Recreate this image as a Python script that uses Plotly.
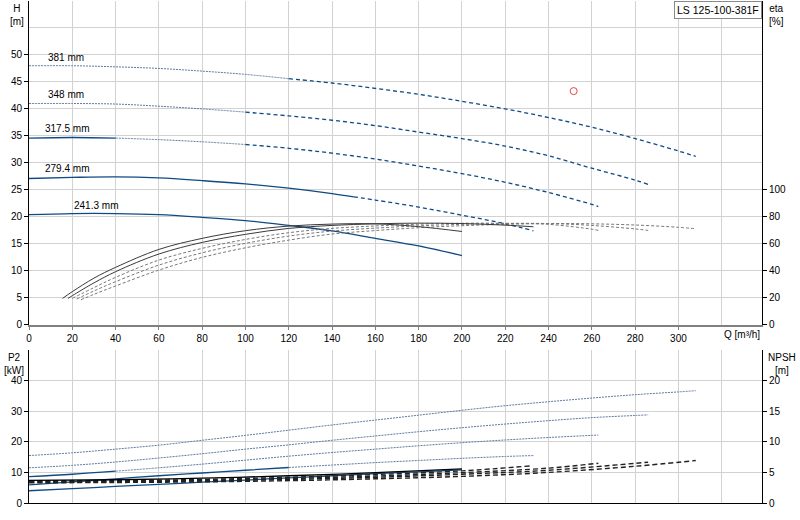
import plotly.graph_objects as go

# ---------------------------
# DATA
# ---------------------------
PUMP_NAME = "LS 125-100-381F"
DIAMETERS = ["381 mm", "348 mm", "317.5 mm", "279.4 mm", "241.3 mm"]

# Q-H curves, Q in m3/h, H in m
Q_381 = [0, 20, 40, 60, 80, 100, 120, 140, 160, 180, 200, 220, 240, 260, 280, 300, 308]
H_381 = [48.0, 48.0, 47.8, 47.5, 47.0, 46.4, 45.6, 44.8, 43.8, 42.7, 41.4, 40.0, 38.4, 36.6, 34.5, 32.2, 31.2]
Q_348 = [0, 20, 40, 60, 80, 100, 120, 140, 160, 180, 200, 220, 240, 260, 280, 286]
H_348 = [41.0, 41.0, 40.9, 40.5, 40.0, 39.4, 38.7, 37.9, 36.9, 35.7, 34.5, 33.1, 31.3, 29.0, 26.8, 26.0]
Q_3175 = [0, 20, 40, 60, 80, 100, 120, 140, 160, 180, 200, 220, 240, 260, 263]
H_3175 = [34.6, 34.7, 34.6, 34.3, 33.9, 33.4, 32.7, 31.8, 30.7, 29.4, 28.0, 26.4, 24.5, 22.3, 21.9]
Q_2794 = [0, 20, 40, 60, 80, 100, 120, 140, 150, 160, 180, 200, 220, 233]
H_2794 = [27.1, 27.3, 27.4, 27.2, 26.7, 26.1, 25.3, 24.3, 23.7, 23.1, 21.8, 20.3, 18.7, 17.4]
Q_2413 = [0, 20, 40, 60, 80, 100, 120, 140, 160, 180, 200]
H_2413 = [20.4, 20.6, 20.6, 20.4, 19.9, 19.3, 18.4, 17.4, 16.0, 14.6, 12.8]

# efficiency curves, eta in %
QE_381 = [24, 30, 40, 60, 80, 100, 120, 140, 160, 180, 200, 220, 240, 260, 280, 300, 308]
ETA_381 = [18.5, 22.5, 28.7, 40.5, 49.9, 57.0, 62.7, 67.2, 69.8, 71.9, 73.4, 74.4, 75.0, 74.8, 73.9, 72.2, 71.1]
QE_348 = [22, 30, 40, 60, 80, 100, 120, 140, 160, 180, 200, 220, 240, 260, 280, 286]
ETA_348 = [19.0, 25.0, 31.9, 44.2, 53.3, 60.3, 65.7, 69.4, 71.6, 73.3, 74.4, 75.0, 75.0, 73.6, 71.0, 69.9]
QE_3175 = [20, 30, 40, 60, 80, 100, 120, 140, 160, 180, 200, 220, 240, 260, 263]
ETA_3175 = [19.5, 27.5, 35.1, 47.9, 56.6, 63.2, 68.2, 71.4, 73.2, 74.5, 75.2, 75.2, 74.4, 70.8, 69.9]
QE_2794 = [18, 20, 30, 40, 60, 80, 100, 120, 140, 160, 180, 200, 220, 233]
ETA_2794 = [19.5, 21.5, 31.0, 39.3, 52.4, 61.0, 67.0, 71.4, 73.6, 74.8, 75.3, 75.0, 73.8, 72.6]
QE_2413 = [15.5, 20, 30, 40, 60, 80, 100, 120, 140, 160, 180, 200]
ETA_2413 = [19.5, 24.5, 34.5, 42.5, 55.8, 64.0, 69.7, 73.1, 74.6, 74.8, 72.7, 69.1]

# shaft power P2 in kW (same Q points as the H curves)
P2_381 = [15.5, 16.4, 17.6, 18.9, 20.5, 22.1, 23.8, 25.5, 27.1, 28.7, 30.3, 31.8, 33.1, 34.3, 35.4, 36.3, 36.7]
P2_348 = [11.5, 12.3, 13.4, 14.7, 16.1, 17.6, 19.0, 20.5, 21.9, 23.3, 24.6, 25.8, 26.9, 27.9, 28.6, 28.8]
P2_3175 = [8.6, 9.4, 10.4, 11.5, 12.7, 14.0, 15.3, 16.5, 17.6, 18.7, 19.7, 20.6, 21.4, 22.1, 22.2]
P2_2794 = [5.9, 6.9, 7.9, 8.9, 9.8, 10.7, 11.6, 12.4, 12.8, 13.2, 13.9, 14.6, 15.2, 15.5]
P2_2413 = [4.0, 4.7, 5.4, 6.1, 6.8, 7.5, 8.2, 8.9, 9.6, 10.2, 10.8]

# NPSH in m
QN_381 = [0, 40, 80, 120, 160, 200, 240, 280, 308]
NPSH_381 = [3.3, 3.35, 3.45, 3.65, 3.95, 4.35, 5.0, 6.0, 6.94]
QN_348 = [0, 40, 80, 120, 160, 200, 240, 286]
NPSH_348 = [3.4, 3.45, 3.6, 3.85, 4.2, 4.7, 5.35, 6.67]
QN_3175 = [0, 40, 80, 120, 160, 200, 240, 263]
NPSH_3175 = [3.5, 3.55, 3.7, 4.0, 4.4, 4.95, 5.7, 6.5]
QN_2794 = [0, 40, 80, 120, 160, 200, 232]
NPSH_2794 = [3.6, 3.65, 3.85, 4.2, 4.65, 5.25, 6.07]
QN_2413 = [0, 40, 80, 120, 160, 200]
NPSH_2413 = [3.7, 3.8, 4.05, 4.45, 4.95, 5.57]

# duty point
DUTY_Q = [251.6]
DUTY_H = [43.3]

# ---------------------------
# STYLE
# ---------------------------
BLUE = "#0f4a86"
GRID = "#d2d2d2"
FONT = "Liberation Sans, Arial, sans-serif"
DOT = dict(color="#5d7aa0", width=1, dash="2px,1px")
DASH = dict(color=BLUE, width=1.3, dash="4px,3px")
SOLID = dict(color=BLUE, width=1.3)

# style changes along each Q-H / P2 curve: (last index, style)
H_SEGMENTS = {
    "381 mm": [(6, DOT), (None, DASH)],
    "348 mm": [(5, DOT), (None, DASH)],
    "317.5 mm": [(2, SOLID), (5, DOT), (None, DASH)],
    "279.4 mm": [(8, SOLID), (None, DASH)],
    "241.3 mm": [(None, SOLID)],
}
P2_SEGMENTS = {
    "381 mm": [(None, DOT)],
    "348 mm": [(None, DOT)],
    "317.5 mm": [(2, SOLID), (None, DOT)],
    "279.4 mm": [(6, SOLID), (None, DOT)],
    "241.3 mm": [(None, SOLID)],
}
# label anchor (Q, H) for each diameter
LABEL_POS = {
    "381 mm": (8, 49.6),
    "348 mm": (8, 42.6),
    "317.5 mm": (6.5, 36.3),
    "279.4 mm": (6.5, 29.0),
    "241.3 mm": (20, 22.1),
}

H_DATA = {
    "381 mm": (Q_381, H_381, P2_381),
    "348 mm": (Q_348, H_348, P2_348),
    "317.5 mm": (Q_3175, H_3175, P2_3175),
    "279.4 mm": (Q_2794, H_2794, P2_2794),
    "241.3 mm": (Q_2413, H_2413, P2_2413),
}
ETA_DATA = {
    "381 mm": (QE_381, ETA_381),
    "348 mm": (QE_348, ETA_348),
    "317.5 mm": (QE_3175, ETA_3175),
    "279.4 mm": (QE_2794, ETA_2794),
    "241.3 mm": (QE_2413, ETA_2413),
}
NPSH_DATA = {
    "381 mm": (QN_381, NPSH_381),
    "348 mm": (QN_348, NPSH_348),
    "317.5 mm": (QN_3175, NPSH_3175),
    "279.4 mm": (QN_2794, NPSH_2794),
    "241.3 mm": (QN_2413, NPSH_2413),
}
SOLID_SET = ["279.4 mm", "241.3 mm"]

fig = go.Figure()


def add_segments(q, v, segments, xaxis, yaxis):
    start = 0
    for end, style in segments:
        stop = len(q) if end is None else end + 1
        fig.add_trace(go.Scatter(
            x=q[start:stop], y=v[start:stop], mode="lines",
            line=dict(shape="spline", **style),
            xaxis=xaxis, yaxis=yaxis, hoverinfo="skip",
        ))
        start = stop - 1


# efficiency first so the H curves sit on top
for d in DIAMETERS:
    q, eta = ETA_DATA[d]
    if d in SOLID_SET:
        line = dict(color="#3a3a3a", width=1)
    else:
        line = dict(color="#777777", width=1, dash="3px,2px")
    fig.add_trace(go.Scatter(x=q, y=eta, mode="lines", line=dict(shape="spline", **line),
                             xaxis="x", yaxis="y2", hoverinfo="skip"))

for d in DIAMETERS:
    q, h, p2 = H_DATA[d]
    add_segments(q, h, H_SEGMENTS[d], "x", "y")
    add_segments(q, p2, P2_SEGMENTS[d], "x2", "y3")

for d in DIAMETERS:
    q, n = NPSH_DATA[d]
    if d == "241.3 mm":
        line = dict(color="black", width=1.3)
    else:
        line = dict(color="#222222", width=1.4, dash="5px,3px")
    fig.add_trace(go.Scatter(x=q, y=n, mode="lines", line=dict(shape="spline", **line),
                             xaxis="x2", yaxis="y4", hoverinfo="skip"))

fig.add_trace(go.Scatter(
    x=DUTY_Q, y=DUTY_H, mode="markers",
    marker=dict(symbol="circle-open", size=7, color="#e0484a", line=dict(width=1)),
    xaxis="x", yaxis="y", hoverinfo="skip",
))

# diameter labels
for d in DIAMETERS:
    qx, hy = LABEL_POS[d]
    fig.add_annotation(x=qx, y=hy, xref="x", yref="y", text=d, showarrow=False,
                       xanchor="left", yanchor="middle", font=dict(size=10))

# axis captions
caps = [
    ("H<br>[m]", -0.017, 1.0, "center", "paper", "paper"),
    ("eta<br>[%]", 1.007, 1.0, "left", "paper", "paper"),
    ("P2<br>[kW]", -0.02, 1.0, "center", "paper", "y3 domain"),
    ("NPSH<br>[m]", 1.006, 1.0, "left", "paper", "y3 domain"),
]
for txt, px, py, anch, xr, yr in caps:
    fig.add_annotation(x=px, y=py, xref=xr, yref=yr, text=txt, showarrow=False,
                       xanchor=anch, yanchor="top", align="center", font=dict(size=10))

fig.add_annotation(x=320, y=0, xref="x", yref="y domain", text="Q [m³/h]", showarrow=False,
                   xanchor="left", yanchor="top", font=dict(size=10), yshift=-2)
fig.add_annotation(x=1, y=1.0, xref="paper", yref="paper", text=PUMP_NAME, showarrow=False,
                   xanchor="right", yanchor="top", font=dict(size=10.5),
                   bgcolor="white", bordercolor="#8a8a8a", borderwidth=1, borderpad=2)

TOP_DOMAIN = [0.3552, 1]
BOT_DOMAIN = [0, 0.3048]
XR = [0, 338.6]

fig.update_layout(
    width=800, height=520,
    margin=dict(l=29, r=38, t=1, b=17, autoexpand=False),
    plot_bgcolor="white", paper_bgcolor="white",
    showlegend=False,
    font=dict(family=FONT, size=10, color="black"),
    xaxis=dict(domain=[0, 1], range=XR, anchor="y", automargin=False,
               tickvals=list(range(0, 301, 20)), ticks="outside", ticklen=3, tickcolor="#808080",
               showgrid=True, gridcolor=GRID, zeroline=False,
               showline=True, linecolor="#808080", linewidth=2,
               minor=dict(tickmode="array", tickvals=[320], showgrid=True, gridcolor=GRID, ticks="")),
    yaxis=dict(domain=TOP_DOMAIN, range=[0, 60], anchor="x", automargin=False,
               tickvals=list(range(0, 51, 5)), ticks="outside", ticklen=4, tickcolor="black",
               showgrid=True, gridcolor=GRID, zeroline=False,
               showline=True, linecolor="black", linewidth=1,
               minor=dict(tickmode="array", tickvals=[55, 60], showgrid=True, gridcolor=GRID, ticks="")),
    yaxis2=dict(overlaying="y", anchor="x", side="right", range=[0, 240], automargin=False,
                tickvals=list(range(0, 101, 20)), ticks="outside", ticklen=4, tickcolor="black",
                showgrid=False, zeroline=False, showline=True, linecolor="black", linewidth=1),
    xaxis2=dict(domain=[0, 1], range=XR, anchor="y3", automargin=False,
                tickvals=list(range(0, 321, 20)), showticklabels=False, ticks="",
                showgrid=True, gridcolor=GRID, zeroline=False,
                showline=True, linecolor="black", linewidth=1),
    yaxis3=dict(domain=BOT_DOMAIN, range=[0, 50], anchor="x2", automargin=False,
                tickvals=[0, 10, 20, 30, 40], ticks="outside", ticklen=4, tickcolor="black",
                showgrid=True, gridcolor=GRID, zeroline=False,
                showline=True, linecolor="black", linewidth=1,
                minor=dict(tickmode="array", tickvals=[50], showgrid=True, gridcolor=GRID, ticks="")),
    yaxis4=dict(overlaying="y3", anchor="x2", side="right", range=[0, 25], automargin=False,
                tickvals=[0, 5, 10, 15, 20], ticks="outside", ticklen=4, tickcolor="black",
                showgrid=False, zeroline=False, showline=True, linecolor="black", linewidth=1),
)

# page body has a default 8px margin; drop it so the chart sits at the window corner
fig.write_html("out.html", config={"displayModeBar": False},
               post_script="document.body.style.margin='0';")
